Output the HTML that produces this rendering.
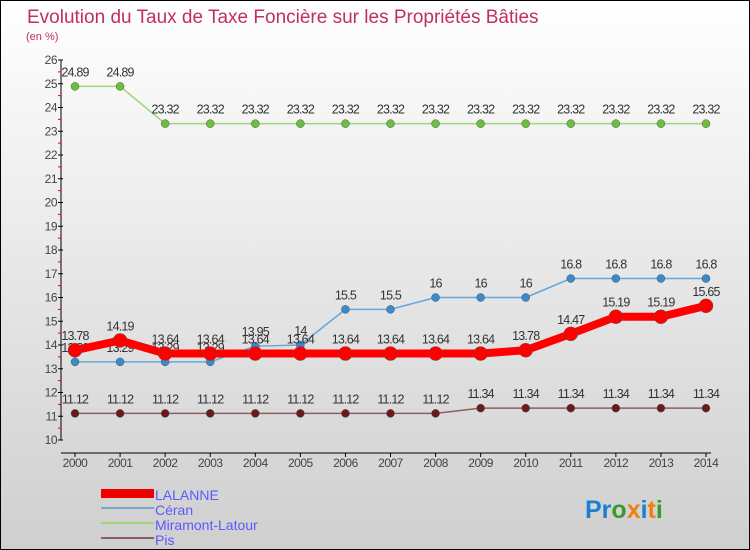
<!DOCTYPE html>
<html><head><meta charset="utf-8"><style>
body{margin:0}
#c{width:750px;height:550px;position:relative;box-sizing:border-box;border:1px solid #000;background:linear-gradient(#ffffff,#cfcfcf);font-family:"Liberation Sans",sans-serif;overflow:hidden}
</style></head><body>
<div id="c">
<svg id="s" width="748" height="548" style="position:absolute;left:0;top:0">
<text x="26" y="22" font-size="19" fill="#c0305a">Evolution du Taux de Taxe Foncière sur les Propriétés Bâties</text>
<text x="25" y="39" font-size="11" fill="#c0305a">(en %)</text>
<g id="axes"></g><g id="series"></g>
<g>
<rect x="100" y="488" width="53" height="9" fill="#e00"/>
<text x="154" y="499" font-size="14" fill="#5a5aff">LALANNE</text>
<rect x="100" y="506" width="53" height="2" fill="#7aa6c8"/>
<text x="154" y="514" font-size="14" fill="#5a5aff">Céran</text>
<rect x="100" y="521" width="53" height="2" fill="#9ed47a"/>
<text x="154" y="529" font-size="14" fill="#5a5aff">Miramont-Latour</text>
<rect x="100" y="536" width="53" height="2" fill="#8a6060"/>
<text x="154" y="544" font-size="14" fill="#5a5aff">Pis</text>
</g>
<text x="584" y="517" font-size="25" font-weight="bold"><tspan fill="#1a7fd0">Pr</tspan><tspan fill="#3a9a30">o</tspan><tspan fill="#f08010">x</tspan><tspan fill="#1a7fd0">i</tspan><tspan fill="#f08010">t</tspan><tspan fill="#3a9a30">i</tspan></text>
</svg>
</div>
<script>
const years=[2000,2001,2002,2003,2004,2005,2006,2007,2008,2009,2010,2011,2012,2013,2014];
const lalanne=[13.78,14.19,13.64,13.64,13.64,13.64,13.64,13.64,13.64,13.64,13.78,14.47,15.19,15.19,15.65];
const ceran=[13.29,13.29,13.29,13.29,13.95,14,15.5,15.5,16,16,16,16.8,16.8,16.8,16.8];
const miramont=[24.89,24.89,23.32,23.32,23.32,23.32,23.32,23.32,23.32,23.32,23.32,23.32,23.32,23.32,23.32];
const pis=[11.12,11.12,11.12,11.12,11.12,11.12,11.12,11.12,11.12,11.34,11.34,11.34,11.34,11.34,11.34];
const yTicks=[10,11,12,13,14,15,16,17,18,19,20,21,22,23,24,25,26];
const NS="http://www.w3.org/2000/svg";
const X=i=>74+i*(705-74)/(years.length-1);
const Y=v=>439-(v-10)*(439-59)/16;
function mk(t,a,p){const e=document.createElementNS(NS,t);for(const k in a)e.setAttribute(k,a[k]);p.appendChild(e);return e;}
const ax=document.getElementById('axes');
let e=mk('line',{x1:60,y1:Y(26),x2:60,y2:Y(10),stroke:'#000'},ax);


e=mk('line',{x1:60,y1:452,x2:710,y2:452,stroke:'#000'},ax);


yTicks.forEach(v=>{
 mk('line',{x1:57,x2:62,y1:Y(v),y2:Y(v),stroke:'#000'},ax);
 if(v<26)mk('line',{x1:57,x2:60,y1:Y(v+.5),y2:Y(v+.5),stroke:'#e00'},ax);
 const t=mk('text',{x:56,y:Y(v)+4,'font-size':12,'text-anchor':'end',fill:'#444','letter-spacing':'-0.5'},ax);
 t.textContent=v;
 
 
});
years.forEach((y,i)=>{
 mk('line',{x1:X(i),x2:X(i),y1:452,y2:456,stroke:'#000'},ax);
 const t=mk('text',{x:X(i),y:466,'font-size':12,'text-anchor':'middle',fill:'#444','letter-spacing':'-0.5'},ax);
 t.textContent=y;
 
 
});
const sg=document.getElementById('series');
function series(name,vals,col,w,r,dot){
 const g=mk('g',{},sg);
 
 
 const p=mk('polyline',{points:vals.map((v,i)=>X(i)+','+Y(v)).join(' '),fill:'none',stroke:col,'stroke-width':w,'stroke-linejoin':'round'},g);
 
 
 vals.forEach((v,i)=>{
  const c=mk('circle',{cx:X(i),cy:Y(v),r:r,fill:dot,stroke:'#555','stroke-width':0.5},g);
  
  
  const t=mk('text',{x:X(i),y:Y(v)-10,'font-size':12.5,'text-anchor':'middle',fill:'#333','letter-spacing':'-0.8'},g);
  t.textContent=v;
  
  
 });
}
series('miramont',miramont,'#9ed47a',1.5,4,'#6cbf3a');
series('pis',pis,'#8a6060',1.5,4,'#6a1a1a');
series('ceran',ceran,'#6aa6d8',1.5,4,'#3a8ad0');
series('lalanne',lalanne,'#f00',8,7,'#f00');
</script>
</body></html>
